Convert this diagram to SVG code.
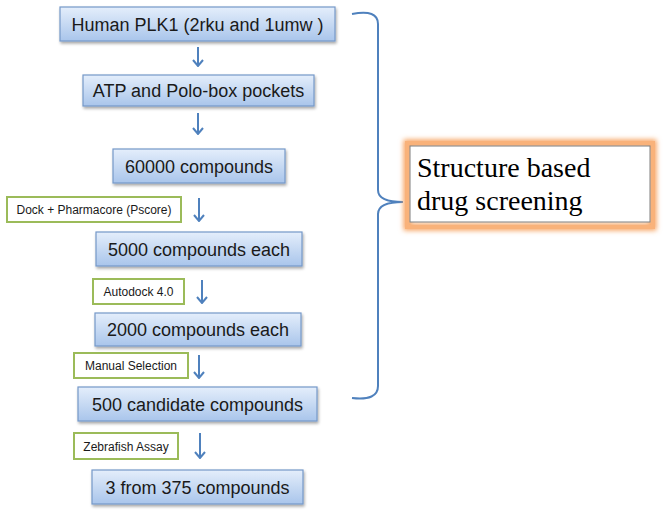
<svg xmlns="http://www.w3.org/2000/svg" width="664" height="514" viewBox="0 0 664 514">
<defs>
<linearGradient id="bg" x1="0" y1="0" x2="0" y2="1">
<stop offset="0" stop-color="#e4eefb"/>
<stop offset="1" stop-color="#a9c5eb"/>
</linearGradient>
<filter id="sh" x="-10%" y="-20%" width="120%" height="150%">
<feGaussianBlur in="SourceAlpha" stdDeviation="1.5"/>
<feOffset dx="1" dy="2" result="b"/>
<feComponentTransfer><feFuncA type="linear" slope="0.35"/></feComponentTransfer>
<feMerge><feMergeNode/><feMergeNode in="SourceGraphic"/></feMerge>
</filter>
<filter id="glow" x="-10%" y="-30%" width="120%" height="160%">
<feGaussianBlur stdDeviation="2.5"/>
</filter>
<marker id="ah" viewBox="0 0 10 12" refX="9" refY="6" markerWidth="10" markerHeight="12" markerUnits="userSpaceOnUse" orient="auto">
<path d="M3,1 L9,6 L3,11" fill="none" stroke="#4f81bd" stroke-width="2"/>
</marker>
</defs>
<style>
.box{fill:url(#bg);stroke:#7598c9;stroke-width:1.2;filter:url(#sh)}
.bt{font-family:"Liberation Sans",Arial,sans-serif;font-size:18px;fill:#1a1a1a;text-anchor:middle}
.lab{fill:#fff;stroke:#9bbb59;stroke-width:2}
.lt{font-family:"Liberation Sans",Arial,sans-serif;font-size:12px;fill:#1a1a1a;text-anchor:middle}
.arr{stroke:#4f81bd;stroke-width:2;fill:none;marker-end:url(#ah)}
</style>
<rect width="664" height="514" fill="#fff"/>
<g id="connectors">
<line class="arr" x1="198" y1="47" x2="198" y2="66"/>
<line class="arr" x1="198" y1="113" x2="198" y2="134"/>
<line class="arr" x1="199" y1="198" x2="199" y2="221"/>
<line class="arr" x1="202" y1="280" x2="202" y2="303"/>
<line class="arr" x1="199" y1="355" x2="199" y2="378"/>
<line class="arr" x1="200" y1="433" x2="200" y2="458"/>
<path d="M352,14 Q378,9 378,24 L378,190 Q378,202 403,202 Q378,202 378,214 L378,386 Q378,401 352,398" fill="none" stroke="#4f81bd" stroke-width="2"/>
</g>
<g id="n1"><rect class="box" x="60" y="7" width="275" height="34"/><text class="bt" x="197.5" y="30.5">Human PLK1 (2rku and 1umw )</text></g>
<g id="n2"><rect class="box" x="83" y="75" width="231" height="31"/><text class="bt" x="198.5" y="97">ATP and Polo-box pockets</text></g>
<g id="n3"><rect class="box" x="113" y="149" width="172" height="34"/><text class="bt" x="199" y="172.5">60000 compounds</text></g>
<g id="n4"><rect class="box" x="96" y="232" width="206" height="34"/><text class="bt" x="199" y="255.5">5000 compounds each</text></g>
<g id="n5"><rect class="box" x="95" y="313" width="206" height="33"/><text class="bt" x="198" y="336">2000 compounds each</text></g>
<g id="n6"><rect class="box" x="78" y="387" width="239" height="34"/><text class="bt" x="197.5" y="410.5">500 candidate compounds</text></g>
<g id="n7"><rect class="box" x="92" y="470" width="211" height="34"/><text class="bt" x="197.5" y="493.5">3 from 375 compounds</text></g>
<g id="l1"><rect class="lab" x="7" y="197" width="174" height="25"/><text class="lt" x="94" y="214">Dock + Pharmacore (Pscore)</text></g>
<g id="l2"><rect class="lab" x="93" y="279" width="91" height="25"/><text class="lt" x="138.5" y="296">Autodock 4.0</text></g>
<g id="l3"><rect class="lab" x="74" y="353" width="114" height="25"/><text class="lt" x="131" y="370">Manual Selection</text></g>
<g id="l4"><rect class="lab" x="74" y="433" width="104" height="26"/><text class="lt" x="126" y="450.5">Zebrafish Assay</text></g>
<g id="summary">
<rect x="407" y="143" width="246" height="84" fill="none" stroke="#f7a25e" stroke-width="7" filter="url(#glow)"/>
<rect x="407" y="143" width="246" height="84" fill="none" stroke="#f9b27a" stroke-width="4"/>
<rect x="410" y="146" width="240" height="76" fill="#fff" stroke="#7f7f7f" stroke-width="1"/>
<text x="417" y="177" font-family="'Liberation Serif','Times New Roman',serif" font-size="28" fill="#000">Structure based</text>
<text x="417" y="210" font-family="'Liberation Serif','Times New Roman',serif" font-size="28" fill="#000">drug screening</text>
</g>
</svg>
